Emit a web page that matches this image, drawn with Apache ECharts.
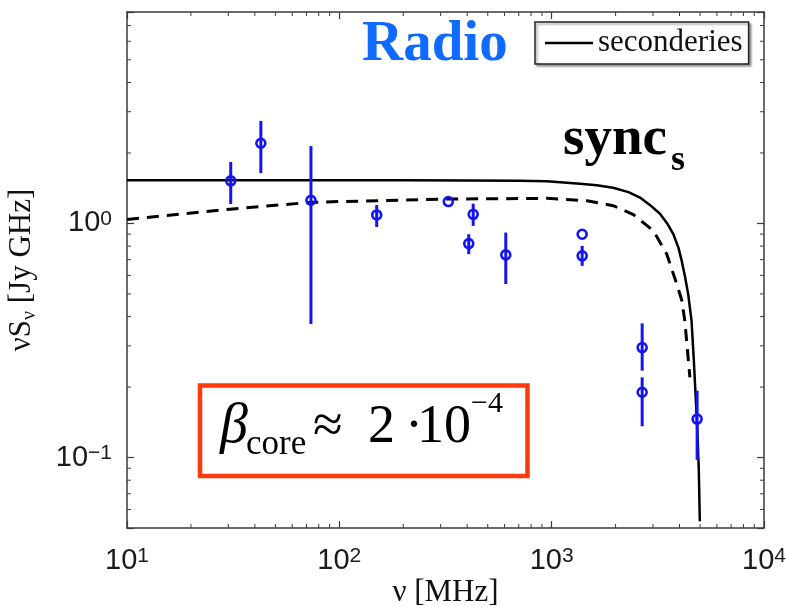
<!DOCTYPE html>
<html><head><meta charset="utf-8">
<script src="https://cdn.jsdelivr.net/npm/echarts@6/dist/echarts.min.js"></script>
<style>html,body{margin:0;padding:0;background:#fff}#c{width:786px;height:607px}</style>
</head><body><div id="c"></div>
<script>
// ---- data ----
const X_MIN = 10, X_MAX = 10000;
const Y_MIN = 0.05, Y_MAX = 8;
const xMinorTicks = [20,30,40,50,60,70,80,90,200,300,400,500,600,700,800,900,2000,3000,4000,5000,6000,7000,8000,9000];
const yMinorTicks = [0.06,0.07,0.08,0.09,0.2,0.3,0.4,0.5,0.6,0.7,0.8,0.9,2,3,4,5,6,7];

// solid "seconderies" curve (nu [MHz], nuS_nu [Jy GHz])
const solidNu   = [10, 20, 50, 100, 200, 400, 700, 950, 1360, 1630, 1945, 2300, 2606, 2900, 3236, 3500, 3741, 3950, 4100, 4250, 4393, 4558, 4674, 4776, 4853, 4932, 4986];
const solidFlux = [1.53, 1.53, 1.53, 1.53, 1.528, 1.525, 1.52, 1.515, 1.478, 1.455, 1.42, 1.36, 1.29, 1.20, 1.10, 1.00, 0.90, 0.79, 0.69, 0.59, 0.50, 0.384, 0.259, 0.175, 0.130, 0.088, 0.0534];

// dashed curve
const dashNu   = [10, 30.5, 72.8, 100, 155, 320, 948, 1466, 1950, 2427, 3015, 3483, 3884, 4100, 4237, 4477];
const dashFlux = [1.04, 1.15, 1.23, 1.24, 1.25, 1.27, 1.28, 1.25, 1.19, 1.09, 0.93, 0.74, 0.55, 0.47, 0.384, 0.22];

// radio data points with error bars
const ptNu   = [30.8, 42.7, 73.5, 150, 326, 427, 407, 608, 1392, 1392, 2668, 2668, 4842];
const ptFlux = [1.52, 2.20, 1.256, 1.087, 1.24, 1.094, 0.82, 0.734, 0.899, 0.727, 0.295, 0.19, 0.146];
const ptLo   = [1.21, 1.64, 0.372, 0.966, 1.24, 0.976, 0.739, 0.551, 0.899, 0.659, 0.235, 0.136, 0.0978];
const ptHi   = [1.83, 2.74, 2.14, 1.199, 1.24, 1.214, 0.899, 0.914, 0.899, 0.802, 0.374, 0.22, 0.193];

// ---- chart ----
const axisCol = '#3a3a3a';
const blue = '#1414f0';
const serif = 'Liberation Serif';
const sans = 'Liberation Sans';

function powLabel(v) {
  const l = Math.log10(v);
  const e = Math.round(l);
  if (Math.abs(l - e) > 1e-6) return '';
  return '{b|10}{s|' + (e < 0 ? '\u2212' : '') + Math.abs(e) + '}';
}
const labelRich = {
  b: { fontFamily: sans, fontSize: 29, color: '#1a1a1a', lineHeight: 30 },
  s: { fontFamily: sans, fontSize: 21, color: '#1a1a1a', lineHeight: 10, verticalAlign: 'top' }
};

const solidData = solidNu.map((x, i) => [x, solidFlux[i]]);
const dashData = dashNu.map((x, i) => [x, dashFlux[i]]);
const ptData = ptNu.map((x, i) => [x, ptFlux[i]]);
const errData = ptNu.map((x, i) => [x, ptLo[i], ptHi[i]]);

const MINOR_LEN = 4;
function xMinorRender(params, api) {
  const v = api.value(0);
  const b = api.coord([v, Y_MIN]);
  const t = api.coord([v, Y_MAX]);
  return { type: 'group', children: [
    { type: 'line', shape: { x1: b[0], y1: b[1], x2: b[0], y2: b[1] - MINOR_LEN }, style: { stroke: axisCol, lineWidth: 1 } },
    { type: 'line', shape: { x1: t[0], y1: t[1], x2: t[0], y2: t[1] + MINOR_LEN }, style: { stroke: axisCol, lineWidth: 1 } }
  ]};
}
function yMinorRender(params, api) {
  const v = api.value(1);
  const l = api.coord([X_MIN, v]);
  const r = api.coord([X_MAX, v]);
  return { type: 'group', children: [
    { type: 'line', shape: { x1: l[0], y1: l[1], x2: l[0] + MINOR_LEN, y2: l[1] }, style: { stroke: axisCol, lineWidth: 1 } },
    { type: 'line', shape: { x1: r[0], y1: r[1], x2: r[0] - MINOR_LEN, y2: r[1] }, style: { stroke: axisCol, lineWidth: 1 } }
  ]};
}
function errRender(params, api) {
  const x = api.value(0);
  const a = api.coord([x, api.value(1)]);
  const b = api.coord([x, api.value(2)]);
  return { type: 'line', shape: { x1: a[0], y1: a[1], x2: b[0], y2: b[1] }, style: { stroke: blue, lineWidth: 3 } };
}

const bl = (b, fs) => b - 0.3375 * fs; // baseline -> middle (Liberation Serif)
function txt(text, x, baseline, fs, opts) {
  opts = opts || {};
  return { type: 'text', x: x, y: bl(baseline, fs), z: 100,
    style: { text: text, fill: opts.fill || '#000',
      font: (opts.style || '') + ' ' + (opts.weight || 'normal') + ' ' + fs + 'px "' + serif + '"',
      align: 'left', verticalAlign: 'middle', textAlign: 'left', textVerticalAlign: 'middle' } };
}

const baseAxis = {
  type: 'log', logBase: 10,
  splitLine: { show: false },
  nameMoveOverlap: false,
  axisLine: { show: true, onZero: false, lineStyle: { color: axisCol, width: 1.5 } },
  axisTick: { show: true, inside: true, length: 7, lineStyle: { color: axisCol, width: 1.2 } }
};

const chart = echarts.init(document.getElementById('c'), null, { renderer: 'canvas' });
chart.setOption({
  animation: false,
  backgroundColor: '#fff',
  grid: { left: 127, right: 22, top: 12, bottom: 79, containLabel: false, outerBoundsMode: 'none' },
  legend: {
    data: ['seconderies'], left: 535, top: 22, itemWidth: 48, itemHeight: 2.5, icon: 'rect',
    padding: [4, 6, 4, 10], borderColor: '#222', borderWidth: 1.5, backgroundColor: '#fff',
    shadowColor: 'rgba(0,0,0,0.35)', shadowOffsetX: 2, shadowOffsetY: 2, shadowBlur: 2,
    selectedMode: false,
    textStyle: { fontFamily: serif, fontSize: 31, color: '#111', lineHeight: 34 }
  },
  xAxis: [
    Object.assign({}, baseAxis, {
      min: X_MIN, max: X_MAX, position: 'bottom',
      axisLabel: { margin: 18, fontSize: 29, fontFamily: sans, formatter: powLabel, rich: labelRich },
      name: '\u03bd [MHz]', nameLocation: 'middle', nameGap: 48,
      nameTextStyle: { fontFamily: serif, fontSize: 31, color: '#111', lineHeight: 34 }
    }),
    Object.assign({}, baseAxis, { min: X_MIN, max: X_MAX, position: 'top', axisLabel: { show: false } })
  ],
  yAxis: [
    Object.assign({}, baseAxis, {
      min: Y_MIN, max: Y_MAX, position: 'left',
      axisLabel: { margin: 15, fontSize: 29, fontFamily: sans, formatter: powLabel, rich: labelRich },
      name: '{a|\u03bdS}{b|\u03bd}{a| [Jy GHz]}', nameLocation: 'middle', nameGap: 87,
      nameTextStyle: { fontFamily: serif, fontSize: 31, color: '#111', rich: {
        a: { fontFamily: serif, fontSize: 31, color: '#111', lineHeight: 34, verticalAlign: 'top' },
        b: { fontFamily: serif, fontSize: 20, color: '#111', lineHeight: 14, verticalAlign: 'bottom' }
      } }
    }),
    Object.assign({}, baseAxis, { min: Y_MIN, max: Y_MAX, position: 'right', axisLabel: { show: false } })
  ],
  series: [
    { type: 'custom', name: 'xminor', data: xMinorTicks.map(v => [v, Y_MIN]), renderItem: xMinorRender, silent: true, z: 1 },
    { type: 'custom', name: 'yminor', data: yMinorTicks.map(v => [X_MIN, v]), renderItem: yMinorRender, silent: true, z: 1 },
    { type: 'line', name: 'seconderies', data: solidData, symbol: 'none', showSymbol: false,
      lineStyle: { color: '#000', width: 2.5 }, itemStyle: { color: '#000' }, z: 3 },
    { type: 'line', name: 'dashed', data: dashData, symbol: 'none', showSymbol: false,
      lineStyle: { color: '#000', width: 3, type: [12, 8] }, z: 3 },
    { type: 'custom', name: 'err', data: errData, renderItem: errRender, encode: { x: 0, y: [1, 2] }, z: 5 },
    { type: 'scatter', name: 'radio', data: ptData, symbol: 'circle', symbolSize: 9,
      itemStyle: { color: 'rgba(0,0,0,0)', borderColor: blue, borderWidth: 2.6, opacity: 1 }, z: 6 }
  ],
  graphic: [
    txt('Radio', 362, 65, 57, { weight: 'bold', fill: '#0f6bff' }),
    txt('sync', 563, 158, 55, { weight: 'bold' }),
    txt('s', 671, 173, 36, { weight: 'bold' }),
    { type: 'rect', z: 100, shape: { x: 200, y: 385.5, width: 327.5, height: 90.5 },
      style: { stroke: '#ff3a0a', lineWidth: 4.5, fill: 'none' } },
    txt('\u03b2', 220, 446, 56, { style: 'italic' }),
    txt('core', 246, 457, 35),
    txt('\u2248', 313, 446, 54),
    txt('2', 368, 446, 54),
    txt('\u00b7', 405, 446, 54),
    txt('10', 417, 446, 54),
    txt('\u22124', 471, 414, 30)
  ]
});
</script>
</body></html>
